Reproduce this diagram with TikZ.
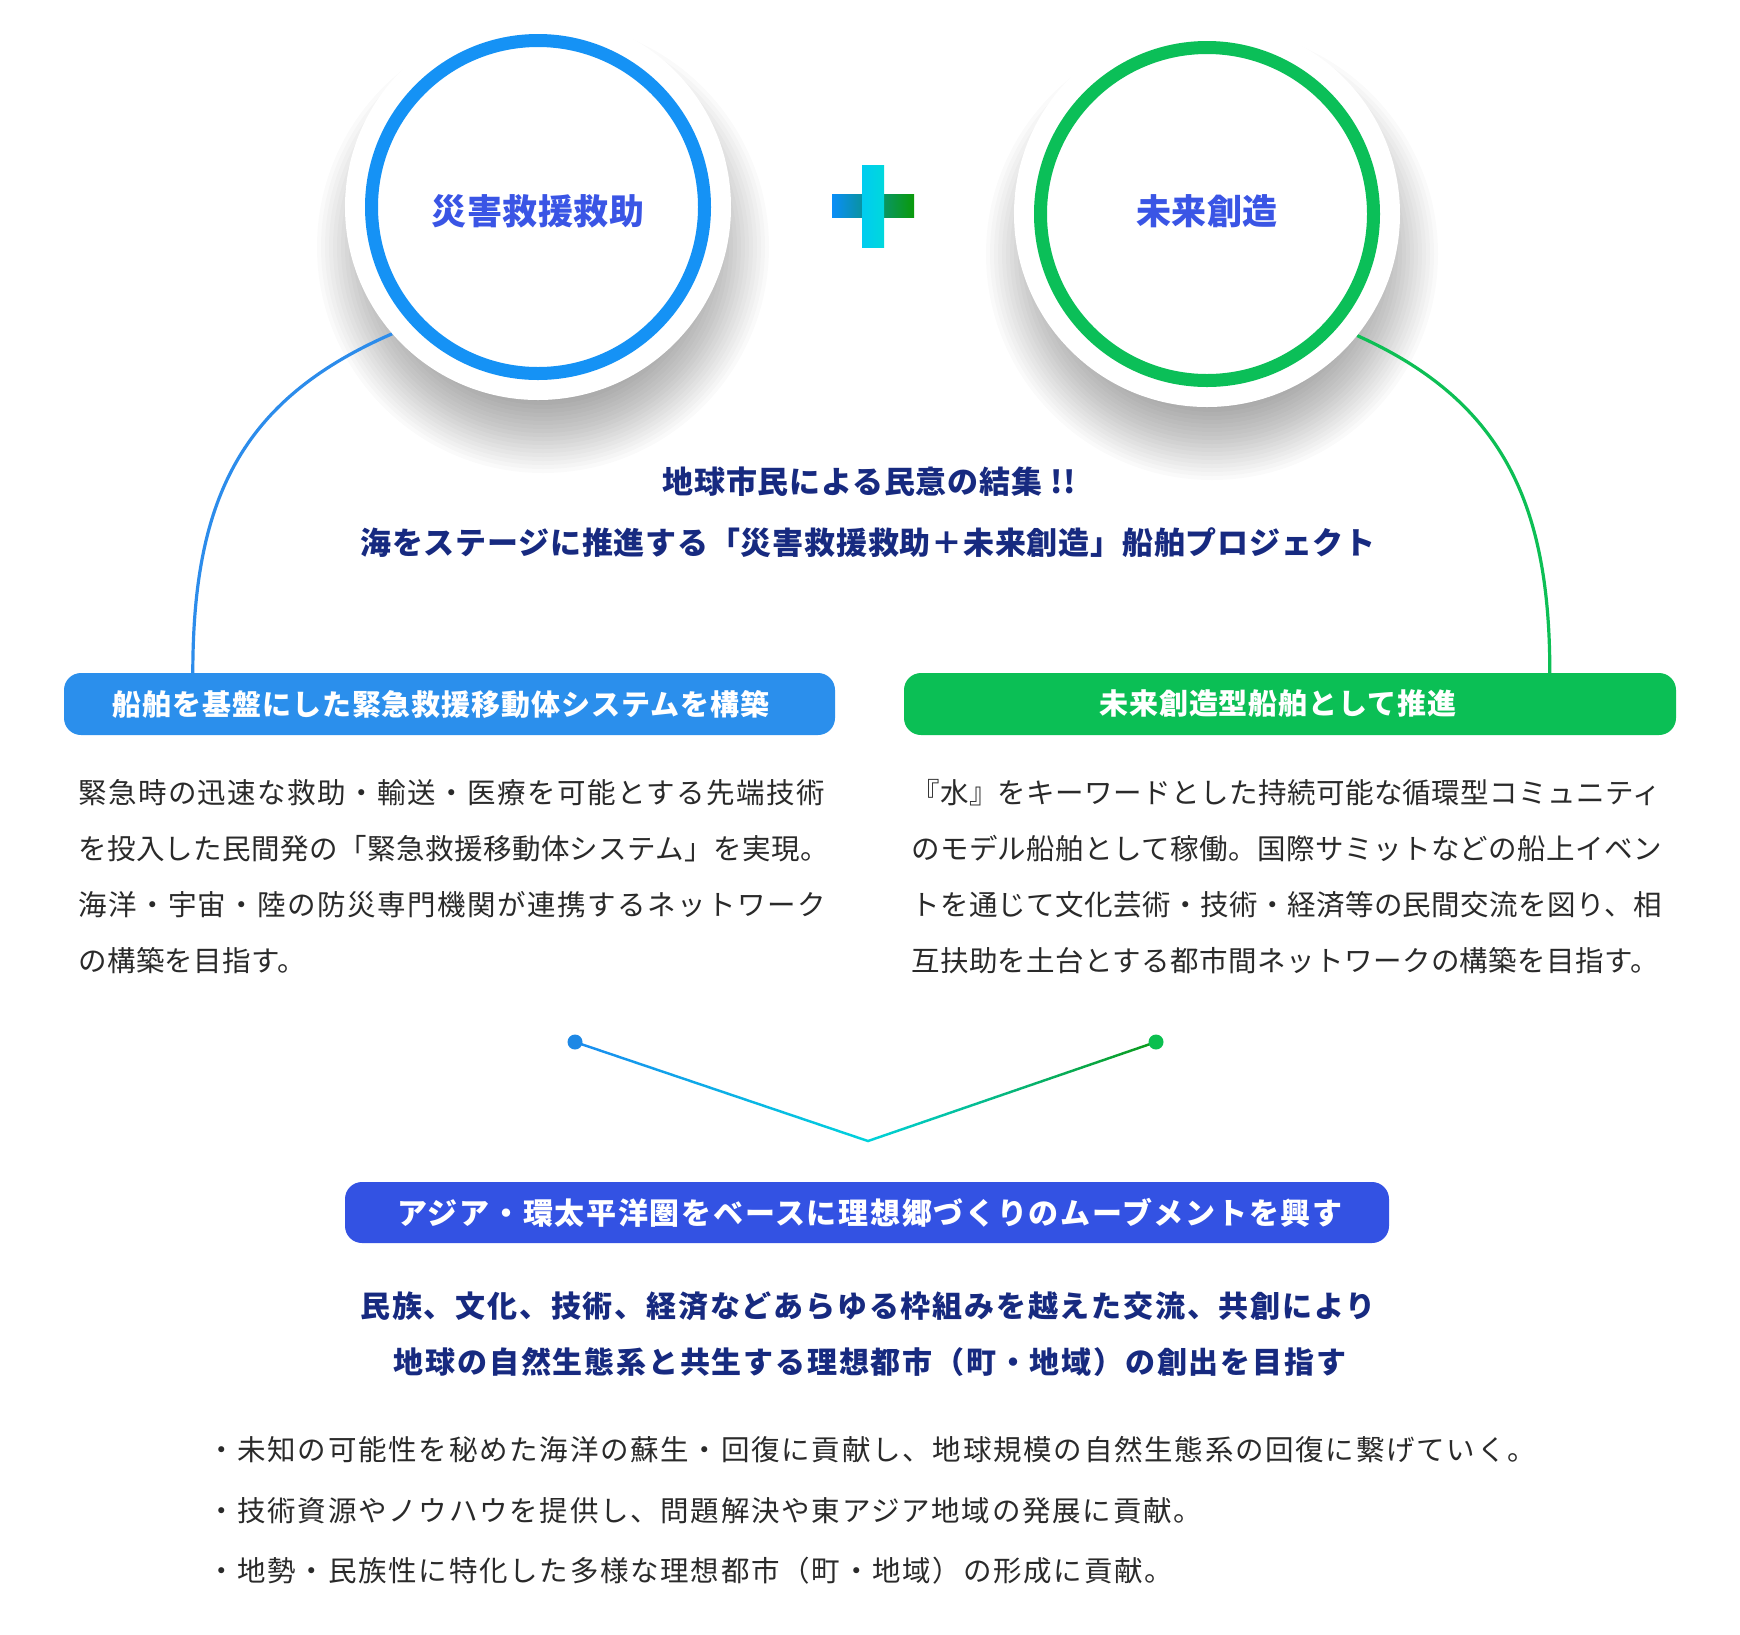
\documentclass[tikz,border=0pt]{standalone}
\usepackage{fontspec}
\newfontfamily\jp{Noto Sans CJK JP}
\usetikzlibrary{calc}
\newcommand{\lsp}[1]{\addfontfeature{LetterSpace=#1}}
\definecolor{ringblue}{HTML}{1592F5}
\definecolor{ringgreen}{HTML}{0BBF58}
\definecolor{circtext}{HTML}{3A55E5}
\definecolor{navy}{HTML}{172A80}
\definecolor{bodytext}{HTML}{2A2A2A}
\definecolor{boxblue}{HTML}{2B8FEC}
\definecolor{boxgreen}{HTML}{0BBF55}
\definecolor{boxroyal}{HTML}{3352E3}
\definecolor{curveblue}{HTML}{2C8CEB}
\definecolor{curvegreen}{HTML}{0DBF55}
\definecolor{plusblue}{HTML}{0A8EF8}
\definecolor{pluscyan}{HTML}{00D4EC}
\definecolor{plusgreen}{HTML}{0A9A0A}
\definecolor{vbarA}{HTML}{00CCF0}
\definecolor{vbarB}{HTML}{00D8DC}
\definecolor{vblue}{HTML}{1A8CF0}
\definecolor{vcyan}{HTML}{00D2DC}
\definecolor{vgreen}{HTML}{0C9A18}
\definecolor{dotblue}{HTML}{1E88E5}
\definecolor{dotgreen}{HTML}{0BBF4F}
\pgfdeclarelayer{bg}
\pgfsetlayers{bg,main}
\tikzset{
  disc/.style={circle, fill=white, inner sep=0pt, minimum size=386pt},
  ringc/.style={circle, line width=13pt, inner sep=0pt, minimum size=333pt},
  circlabel/.style={inner sep=0pt, text=circtext, font=\jp\bfseries\fontsize{35pt}{40pt}\selectfont},
  navytext/.style={inner sep=0pt, text=navy, font=\jp\bfseries\fontsize{31pt}{36pt}\selectfont},
  navysmall/.style={inner sep=0pt, text=navy, font=\jp\bfseries\fontsize{30pt}{34pt}\selectfont},
  bodyline/.style={anchor=west, inner sep=0pt, text=bodytext, font=\jp\fontsize{28.5pt}{32pt}\selectfont},
  boxlabel/.style={inner sep=0pt, text=white, font=\jp\bfseries\fontsize{29pt}{32pt}\selectfont},
  bigboxlabel/.style={inner sep=0pt, text=white, font=\jp\bfseries\fontsize{30pt}{34pt}\selectfont},
  roundbox/.style={rounded corners=17pt, inner sep=0pt, minimum height=62pt},
  dotc/.style={circle, inner sep=0pt, minimum size=15pt},
  link/.style={line width=3.2pt},
  shadowlayer/.style={fill=black, opacity=0.021},
}
\begin{document}
\begin{tikzpicture}[x=1pt,y=-1pt]
\useasboundingbox (0,0) rectangle (1740,1634);

% circles
\node[disc] (d1) at (538,207) {};
\node[disc] (d2) at (1207,214) {};
\node[ringc, draw=ringblue] (c1) at (d1.center) {};
\node[ringc, draw=ringgreen] (c2) at (d2.center) {};
\node[circlabel] (lab1) at (538,211) {\lsp{1.4}災害救援救助};
\node[circlabel] (lab2) at (1207,211) {\lsp{1.4}未来創造};

% plus sign
\shade[left color=plusblue, middle color=pluscyan, right color=plusgreen] (832,194) rectangle (914,217);
\shade[left color=vbarA, right color=vbarB] (862,165) rectangle (884,247);

% titles
\node[navytext] (t1) at (869,482) {\lsp{2.5}地球市民による民意の結集 !!};
\node[navytext] (t2) at (868,543) {\lsp{2.5}海をステージに推進する「災害救援救助＋未来創造」船舶プロジェクト};

% boxes
\node[roundbox, fill=boxblue, minimum width=771pt] (b1) at (449.5,704) {};
\node[roundbox, fill=boxgreen, minimum width=772pt] (b2) at (1290,704) {};
\node[boxlabel] (b1l) at (441,704) {\lsp{3.3}船舶を基盤にした緊急救援移動体システムを構築};
\node[boxlabel] (b2l) at (1278,704) {\lsp{3.3}未来創造型船舶として推進};

% left paragraph
\node[bodyline] (l1) at (78,793) {\lsp{5.1}緊急時の迅速な救助・輸送・医療を可能とする先端技術};
\node[bodyline] (l2) at (78,849) {\lsp{1.5}を投入した民間発の「緊急救援移動体システム」を実現。};
\node[bodyline] (l3) at (78,905) {\lsp{5.1}海洋・宇宙・陸の防災専門機関が連携するネットワーク};
\node[bodyline] (l4) at (78,961) {\lsp{1.5}の構築を目指す。};

% right paragraph
\node[bodyline] (r1) at (911,793) {\lsp{1.5}『水』をキーワードとした持続可能な循環型コミュニティ};
\node[bodyline] (r2) at (911,849) {\lsp{1.5}のモデル船舶として稼働。国際サミットなどの船上イベン};
\node[bodyline] (r3) at (911,905) {\lsp{1.5}トを通じて文化芸術・技術・経済等の民間交流を図り、相};
\node[bodyline] (r4) at (911,961) {\lsp{1.5}互扶助を土台とする都市間ネットワークの構築を目指す。};

% V connector dots
\node[dotc, fill=dotblue] (p1) at (575,1042) {};
\node[dotc, fill=dotgreen] (p2) at (1156,1042) {};
\coordinate (vx) at (868,1141);

% bottom box
\node[roundbox, fill=boxroyal, minimum width=1044pt, minimum height=61pt] (b3) at (867,1212.5) {};
\node[bigboxlabel] (b3l) at (870,1212.5) {\lsp{5.7}アジア・環太平洋圏をベースに理想郷づくりのムーブメントを興す};

\node[navysmall] (n1) at (868,1306) {\lsp{6}民族、文化、技術、経済などあらゆる枠組みを越えた交流、共創により};
\node[navysmall] (n2) at (870,1362) {\lsp{6}地球の自然生態系と共生する理想都市（町・地域）の創出を目指す};

% bullets
\node[bodyline] (u1) at (207,1450) {\lsp{6.1}・未知の可能性を秘めた海洋の蘇生・回復に貢献し、地球規模の自然生態系の回復に繋げていく。};
\node[bodyline] (u2) at (207,1511) {\lsp{6.1}・技術資源やノウハウを提供し、問題解決や東アジア地域の発展に貢献。};
\node[bodyline] (u3) at (207,1571) {\lsp{6.1}・地勢・民族性に特化した多様な理想都市（町・地域）の形成に貢献。};

\begin{pgfonlayer}{bg}
  \fill[white] (0,0) rectangle (1740,1634);
  \foreach \r in {150,154,...,226} {
    \fill[shadowlayer] ($(d1.center)+(5,40)$) circle[radius=\r pt];
    \fill[shadowlayer] ($(d2.center)+(5,40)$) circle[radius=\r pt];
  }
  \draw[link, curveblue] (d1.221) .. controls (240,400) and (193,500) .. ([xshift=129pt]b1.north west);
  \draw[link, curvegreen] (d2.-39) .. controls (1500,400) and (1550,500) .. ([xshift=646pt]b2.north west);
  \shade[left color=vblue, right color=vcyan] ($(p1.center)+(0,-1.3)$) -- ($(vx)+(0,-1.3)$) -- ($(vx)+(0,1.3)$) -- ($(p1.center)+(0,1.3)$) -- cycle;
  \shade[left color=vcyan, right color=vgreen] ($(vx)+(0,-1.3)$) -- ($(p2.center)+(0,-1.3)$) -- ($(p2.center)+(0,1.3)$) -- ($(vx)+(0,1.3)$) -- cycle;
\end{pgfonlayer}
\end{tikzpicture}
\end{document}
